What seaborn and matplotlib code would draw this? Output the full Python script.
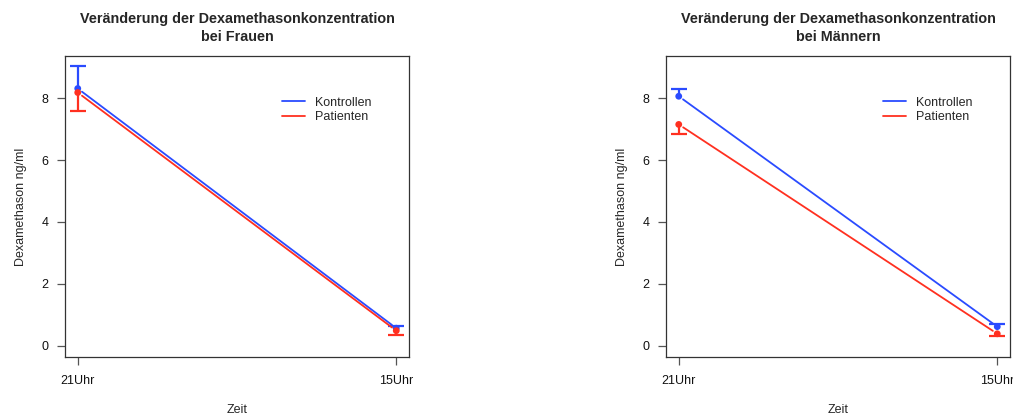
import numpy as np
import pandas as pd
import matplotlib
matplotlib.use("Agg")
import matplotlib.pyplot as plt
from matplotlib.lines import Line2D
import seaborn as sns

# ---------------- data ----------------
zeiten = ["21Uhr", "15Uhr"]
gruppen = ["Kontrollen", "Patienten"]

frauen_kontrollen = [8.31, 0.57]
frauen_kontrollen_fehler = [0.72, 0.085]
frauen_patienten = [8.18, 0.49]
frauen_patienten_fehler = [0.58, 0.145]

maenner_kontrollen = [8.06, 0.62]
maenner_kontrollen_fehler = [0.25, 0.07]
maenner_patienten = [7.15, 0.39]
maenner_patienten_fehler = [0.32, 0.07]

titel = ["Veränderung der Dexamethasonkonzentration\nbei Frauen",
         "Veränderung der Dexamethasonkonzentration\nbei Männern"]
y_ticks = [0, 2, 4, 6, 8]

farben = {"Kontrollen": "#2a4bff", "Patienten": "#ff3020"}
richtung = {"Kontrollen": 1, "Patienten": -1}  # error bar direction


def make_df(k, kf, p, pf):
    rows = []
    for i, z in enumerate(zeiten):
        rows.append(dict(zeit=z, pos=i, gruppe="Kontrollen", wert=k[i], fehler=kf[i]))
        rows.append(dict(zeit=z, pos=i, gruppe="Patienten", wert=p[i], fehler=pf[i]))
    return pd.DataFrame(rows)


daten = [make_df(frauen_kontrollen, frauen_kontrollen_fehler,
                 frauen_patienten, frauen_patienten_fehler),
         make_df(maenner_kontrollen, maenner_kontrollen_fehler,
                 maenner_patienten, maenner_patienten_fehler)]

# ---------------- style ----------------
sns.set_style("ticks")
plt.rcParams["font.family"] = ["Liberation Sans", "DejaVu Sans"]
plt.rcParams["axes.edgecolor"] = "#333333"
plt.rcParams["xtick.color"] = "#555555"
plt.rcParams["ytick.color"] = "#555555"
plt.rcParams["xtick.labelcolor"] = "#111111"
plt.rcParams["ytick.labelcolor"] = "#111111"

FS = 9.0
W, H = 1013, 415
fig = plt.figure(figsize=(W / 100, H / 100), dpi=100)
ax_pos = [[65 / W, 58 / H, 344 / W, 301 / H],
          [666 / W, 58 / H, 344 / W, 301 / H]]

for idx in range(2):
    ax = fig.add_axes(ax_pos[idx])
    df = daten[idx]

    # lines between time points (with small gaps at the points)
    for g in gruppen:
        sub = df[df.gruppe == g].sort_values("pos")
        ax.annotate("", xy=(sub.pos.iloc[1], sub.wert.iloc[1]),
                    xytext=(sub.pos.iloc[0], sub.wert.iloc[0]),
                    arrowprops=dict(arrowstyle="-", color=farben[g], lw=1.3,
                                    shrinkA=3.8, shrinkB=3.8))

    # one-sided error bars
    for g in gruppen:
        sub = df[df.gruppe == g]
        ends = sub.wert + richtung[g] * sub.fehler
        ax.vlines(sub.pos, sub.wert, ends, color=farben[g], lw=1.6)
        ax.plot(sub.pos, ends, ls="none", marker="_", markersize=11.5,
                mew=1.6, color=farben[g])

    # points
    sns.scatterplot(data=df, x="pos", y="wert", hue="gruppe", palette=farben,
                    hue_order=gruppen, s=24, linewidth=0, legend=False, ax=ax,
                    zorder=5)

    ax.set_xlim(-0.04, 1.04)
    ax.set_ylim(-0.36, 9.36)
    ax.set_xticks([0, 1])
    ax.set_xticklabels(zeiten)
    ax.set_yticks(y_ticks)
    ax.tick_params(axis="both", length=5.8, width=0.9, labelsize=FS)
    ax.tick_params(axis="y", pad=6)
    ax.tick_params(axis="x", pad=7.5)
    for s in ax.spines.values():
        s.set_visible(True)
        s.set_linewidth(0.9)

    ax.set_xlabel("Zeit", fontsize=FS, labelpad=12)
    ax.set_ylabel("Dexamethason ng/ml", fontsize=FS, labelpad=10.5)
    ax.set_title(titel[idx], fontsize=10.4, fontweight="bold", pad=10.5,
                 linespacing=1.38)

    handles = [Line2D([0], [0], color=farben[g], lw=1.3) for g in gruppen]
    ax.legend(handles, gruppen, loc="upper left", bbox_to_anchor=(0.631, 0.865),
              frameon=False, fontsize=FS, handlelength=1.8, handletextpad=0.85,
              labelspacing=0.22, borderpad=0, borderaxespad=0)

fig.savefig("out.png", dpi=100)
